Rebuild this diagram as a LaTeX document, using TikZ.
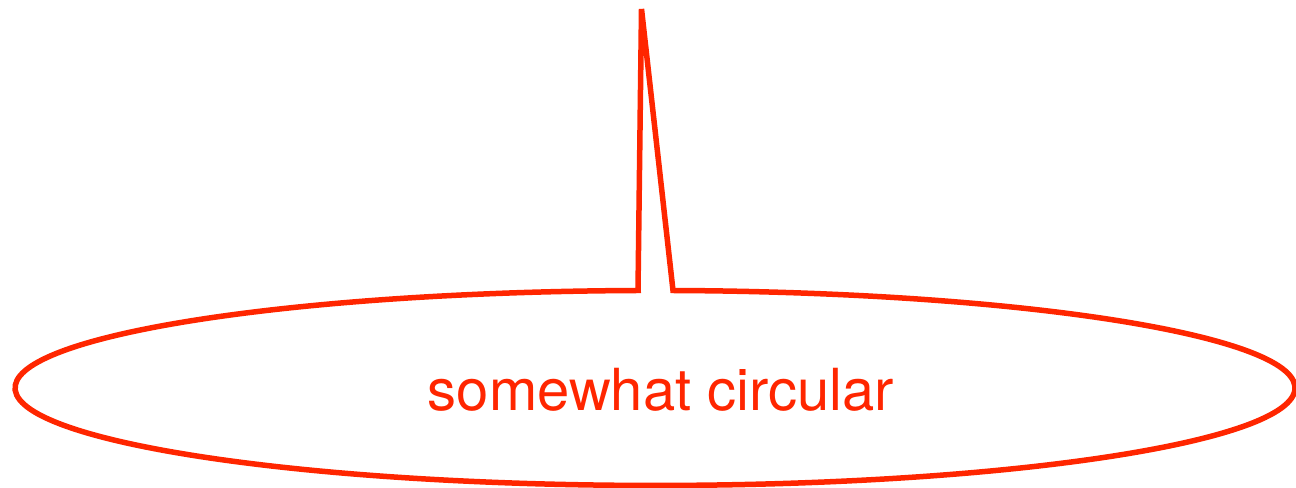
\documentclass[tikz,border=0pt]{standalone}
\usepackage{fontspec}
\newfontfamily\calloutfont{TeX Gyre Heros}
\usepackage{tikz}
\usetikzlibrary{calc}
\definecolor{calloutred}{HTML}{FF2600}

\begin{document}
\begin{tikzpicture}[scale=1.0,
  bubble/.style={line width=0.11cm, draw=calloutred, line join=miter}]
  \useasboundingbox (0,0) rectangle (25.92,9.76);
  % the callout: ellipse with a thin spike up to the top
  \coordinate (tip) at (12.83,9.58);
  \coordinate (left foot) at (12.76,3.96);
  \draw[bubble] (13.46,3.95) arc[start angle=88.39, end angle=-268.48, x radius=12.80, y radius=1.95]
    -- (left foot) -- (tip) -- cycle;
  \node[calloutred, font=\calloutfont\fontsize{33}{40}\selectfont] (label) at (13.22,1.96) {somewhat circular};
\end{tikzpicture}
\end{document}
